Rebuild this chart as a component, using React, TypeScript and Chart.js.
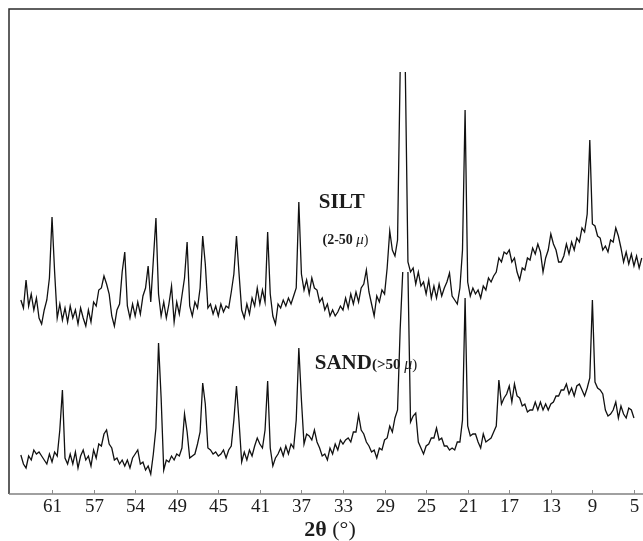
import { useEffect, useRef } from 'react';
import { Chart, registerables } from 'chart.js';

Chart.register(...registerables);

// Step scan: 2θ runs from SCAN_START downwards in SCAN_STEP increments.
const SCAN_START = 64.0;
const SCAN_STEP = 0.25;

// Visible 2θ window (axis is drawn high angle on the left).
const X_MIN = 4.13;
const X_MAX = 65.14;

// Tick positions and the labels printed under them.
const tickValues = [61, 57, 53, 49, 45, 41, 37, 33, 29, 25, 21, 17, 13, 9, 5];
const tickLabels = ['61', '57', '54', '49', '45', '41', '37', '33', '29', '25', '21', '17', '13', '9', '5'];

// Relative intensity (a.u., offset stacked) for the silt fraction, 2–50 µm.
const siltIntensity: (number | null)[] = [
  194, 186, 214, 188, 200, 184, 196, 176, 170, 184,
  194, 216, 277, 222, 176, 190, 174, 186, 172, 188,
  176, 184, 170, 186, 176, 168, 184, 172, 192, 188,
  204, 206, 218, 210, 200, 178, 168, 184, 190, 222,
  242, 188, 176, 190, 178, 192, 180, 198, 206, 228,
  192, 234, 276, 200, 178, 192, 176, 190, 208, 172,
  192, 180, 198, 216, 252, 188, 178, 192, 186, 206,
  258, 230, 186, 190, 180, 188, 178, 190, 182, 188,
  186, 202, 220, 258, 220, 184, 176, 190, 180, 196,
  188, 206, 190, 204, 192, 262, 200, 178, 170, 190,
  186, 194, 188, 196, 190, 198, 206, 292, 220, 204,
  214, 200, 216, 206, 204, 192, 196, 184, 190, 178,
  184, 178, 182, 188, 184, 196, 186, 200, 190, 202,
  192, 206, 210, 224, 202, 190, 178, 198, 192, 204,
  200, 226, 263, 244, 238, 254, 422, null, 422, 232,
  222, 226, 210, 222, 208, 212, 200, 214, 196, 208,
  196, 210, 198, 206, 212, 221, 198, 194, 190, 206,
  244, 384, 212, 198, 206, 200, 204, 196, 208, 204,
  216, 212, 218, 222, 236, 232, 242, 240, 244, 232,
  236, 222, 214, 226, 224, 236, 234, 246, 240, 250,
  242, 222, 236, 244, 260, 250, 244, 232, 232, 238,
  250, 240, 252, 244, 256, 252, 266, 262, 280, 354,
  270, 268, 258, 256, 244, 248, 242, 254, 252, 266,
  258, 246, 232, 242, 230, 240, 228, 238, 226, 236,
];

// Relative intensity (a.u.) for the sand fraction, > 50 µm.
const sandIntensity: (number | null)[] = [
  39, 30, 26, 38, 34, 44, 40, 42, 38, 34,
  30, 40, 32, 42, 38, 64, 104, 36, 30, 40,
  30, 42, 26, 38, 44, 34, 38, 28, 44, 36,
  50, 48, 60, 64, 50, 46, 34, 36, 30, 34,
  28, 34, 26, 36, 40, 44, 30, 32, 24, 28,
  20, 40, 66, 151, 96, 24, 34, 32, 38, 34,
  40, 38, 46, 80, 62, 36, 38, 40, 50, 62,
  111, 90, 46, 44, 40, 42, 38, 40, 44, 36,
  44, 48, 74, 108, 72, 32, 42, 34, 44, 38,
  48, 56, 50, 46, 64, 113, 46, 28, 36, 40,
  46, 38, 48, 40, 50, 46, 74, 146, 94, 50,
  60, 58, 54, 64, 52, 46, 38, 40, 34, 46,
  40, 50, 44, 54, 50, 54, 56, 52, 62, 62,
  79, 64, 60, 52, 48, 42, 44, 36, 46, 44,
  54, 56, 68, 62, 76, 84, 164, 222, null, 222,
  72, 78, 81, 52, 46, 40, 48, 50, 56, 56,
  66, 54, 56, 48, 48, 44, 46, 44, 52, 52,
  74, 196, 68, 58, 60, 60, 52, 46, 60, 52,
  54, 56, 62, 68, 114, 90, 96, 100, 108, 92,
  110, 98, 96, 88, 90, 82, 84, 84, 92, 84,
  92, 84, 90, 84, 90, 92, 98, 98, 104, 104,
  110, 100, 106, 98, 108, 110, 104, 98, 106, 116,
  194, 112, 106, 104, 100, 84, 78, 80, 84, 92,
  76, 88, 80, 76, 86, 84, 76,
];

const SERIF = '"Liberation Serif", "Times New Roman", Times, serif';
const INK = '#1c1c1c';

type Run = { text: string; font: string };

function toPoints(values: (number | null)[]) {
  return values.map((v, i) => ({ x: SCAN_START - i * SCAN_STEP, y: v }));
}

// Draws consecutive text runs with different fonts on one baseline.
function drawRuns(ctx: CanvasRenderingContext2D, runs: Run[], x: number, y: number, align: 'left' | 'center') {
  let width = 0;
  runs.forEach((r) => {
    ctx.font = r.font;
    width += ctx.measureText(r.text).width;
  });
  let cx = align === 'center' ? x - width / 2 : x;
  ctx.textAlign = 'left';
  ctx.textBaseline = 'alphabetic';
  runs.forEach((r) => {
    ctx.font = r.font;
    ctx.fillText(r.text, cx, y);
    cx += ctx.measureText(r.text).width;
  });
}

const framePlugin = {
  id: 'xrdFrame',
  afterDraw(chart: any) {
    const { ctx, chartArea: a, scales } = chart;
    const xs = scales.x;
    const ys = scales.y;
    ctx.save();

    // Frame: dark left and top edges, grey 2θ axis.
    ctx.strokeStyle = '#2b2b2b';
    ctx.lineWidth = 1.5;
    ctx.beginPath();
    ctx.moveTo(a.left, a.bottom);
    ctx.lineTo(a.left, a.top);
    ctx.lineTo(a.right, a.top);
    ctx.stroke();

    ctx.strokeStyle = '#808080';
    ctx.lineWidth = 1.6;
    ctx.beginPath();
    ctx.moveTo(a.left, a.bottom);
    ctx.lineTo(a.right, a.bottom);
    ctx.stroke();

    // Inward tick marks and their labels.
    ctx.strokeStyle = '#8c8c8c';
    ctx.lineWidth = 1;
    ctx.fillStyle = INK;
    xs.ticks.forEach((t: any) => {
      const px = Math.round(xs.getPixelForValue(t.value)) + 0.5;
      ctx.beginPath();
      ctx.moveTo(px, a.bottom);
      ctx.lineTo(px, a.bottom - 4);
      ctx.stroke();
      const idx = tickValues.indexOf(t.value);
      drawRuns(ctx, [{ text: tickLabels[idx], font: `19px ${SERIF}` }], px, a.bottom + 18, 'center');
    });

    // Axis title.
    drawRuns(
      ctx,
      [
        { text: '2θ', font: `bold 22px ${SERIF}` },
        { text: ' (°)', font: `22px ${SERIF}` },
      ],
      330,
      a.bottom + 42,
      'center'
    );

    // Sample labels, anchored in data space.
    drawRuns(ctx, [{ text: 'SILT', font: `bold 21px ${SERIF}` }], xs.getPixelForValue(35.33), ys.getPixelForValue(286), 'left');
    drawRuns(
      ctx,
      [
        { text: '(2-50 ', font: `bold 14px ${SERIF}` },
        { text: 'μ', font: `italic 15px ${SERIF}` },
        { text: ')', font: `14px ${SERIF}` },
      ],
      xs.getPixelForValue(34.97),
      ys.getPixelForValue(250),
      'left'
    );
    drawRuns(
      ctx,
      [
        { text: 'SAND', font: `bold 21px ${SERIF}` },
        { text: '(>50 ', font: `bold 15px ${SERIF}` },
        { text: 'μ', font: `italic 16px ${SERIF}` },
        { text: ')', font: `15px ${SERIF}` },
      ],
      xs.getPixelForValue(35.72),
      ys.getPixelForValue(125),
      'left'
    );

    ctx.restore();
  },
};

export default function App() {
  const canvasRef = useRef<HTMLCanvasElement | null>(null);

  useEffect(() => {
    const canvas = canvasRef.current;
    if (!canvas) return;
    const trace = {
      borderColor: '#111111',
      borderWidth: 1.3,
      pointRadius: 0,
      tension: 0,
      spanGaps: false,
      fill: false,
    };
    const chart = new Chart(canvas, {
      type: 'line',
      data: {
        datasets: [
          { label: 'SILT (2-50 μ)', data: toPoints(siltIntensity), ...trace },
          { label: 'SAND (>50 μ)', data: toPoints(sandIntensity), ...trace },
        ],
      },
      options: {
        responsive: false,
        animation: false,
        devicePixelRatio: 1,
        events: [],
        layout: { padding: { top: 9, left: 0, right: 0, bottom: 0 } },
        plugins: { legend: { display: false }, tooltip: { enabled: false } },
        scales: {
          x: {
            type: 'linear',
            reverse: true,
            min: X_MIN,
            max: X_MAX,
            grid: { display: false },
            border: { display: false },
            ticks: { display: false },
            afterBuildTicks: (scale: any) => {
              scale.ticks = tickValues.map((v) => ({ value: v }));
            },
            afterFit: (scale: any) => {
              scale.height = 47;
            },
          },
          y: {
            type: 'linear',
            min: 0,
            max: 485,
            grid: { display: false },
            border: { display: false },
            ticks: { display: false },
            afterFit: (scale: any) => {
              scale.width = 9;
            },
          },
        },
      },
      plugins: [framePlugin],
    });
    return () => chart.destroy();
  }, []);

  return (
    <div style={{ position: 'absolute', left: 0, top: 0, width: 643, height: 541, background: '#ffffff' }}>
      <canvas ref={canvasRef} width={643} height={541} style={{ display: 'block', width: 643, height: 541 }} />
    </div>
  );
}
